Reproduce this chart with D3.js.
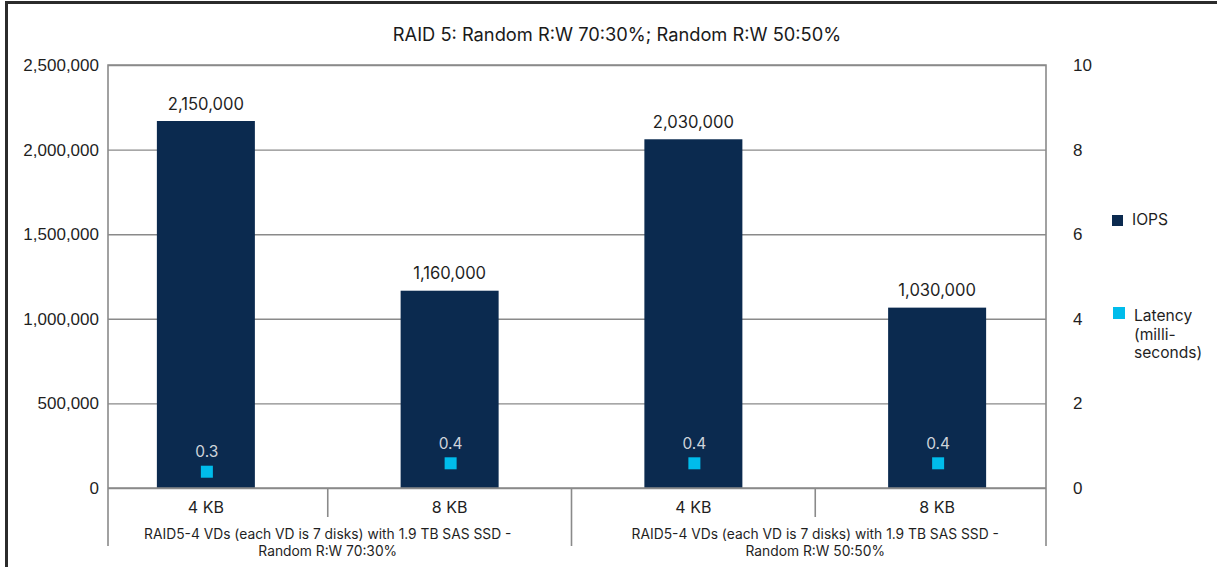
<!DOCTYPE html>
<html>
<head>
<meta charset="utf-8">
<script src="https://cdn.jsdelivr.net/npm/d3@7"></script>
<style>
  body { margin: 0; background: #fff; }
  svg { display: block; font-family: Inter, "Noto Sans", sans-serif; }
</style>
</head>
<body>
<div id="chart"></div>
<script>
const title = "RAID 5: Random R:W 70:30%; Random R:W 50:50%";
const blockSizes = ["4 KB", "8 KB", "4 KB", "8 KB"];
const groupLabels = [
  ["RAID5-4 VDs (each VD is 7 disks) with 1.9 TB SAS SSD -", "Random R:W 70:30%"],
  ["RAID5-4 VDs (each VD is 7 disks) with 1.9 TB SAS SSD -", "Random R:W 50:50%"],
];
const iops = [2169000, 1166000, 2061000, 1066000];
const iopsLabels = ["2,150,000", "1,160,000", "2,030,000", "1,030,000"];
const latency = [0.385, 0.584, 0.584, 0.584];
const latencyLabels = ["0.3", "0.4", "0.4", "0.4"];
const leftTicks = [0, 500000, 1000000, 1500000, 2000000, 2500000];
const rightTicks = [0, 2, 4, 6, 8, 10];

const width = 1217, height = 567;
const plot = { left: 108, right: 1046, top: 65, bottom: 488, axisEnd: 546 };
const barColor = "#0b2a4f";
const latColor = "#00bceb";
const gridColor = "#8a8a8a";

const svg = d3.select("#chart").append("svg").attr("width", width).attr("height", height);
svg.append("rect").attr("width", width).attr("height", height).attr("fill", "#fff");

// outer frame (top + left only)
svg.append("path").attr("d", `M6.5,${height} V2.5 H${width}`).attr("fill", "none")
  .attr("stroke", "#2b2b2b").attr("stroke-width", 3);

svg.append("text").attr("x", 617).attr("y", 36).attr("text-anchor", "middle")
  .attr("dominant-baseline", "middle").attr("font-size", 18.3).attr("fill", "#1a1a1a").text(title);

const x = d3.scaleBand().domain(d3.range(blockSizes.length)).range([84, 1059]).padding(0);
const y = d3.scaleLinear().domain([0, 2500000]).range([plot.bottom, plot.top]);
const y2 = d3.scaleLinear().domain([0, 10]).range([plot.bottom, plot.top]);

// gridlines
const grid = svg.append("g").attr("transform", `translate(${plot.left},0)`)
  .call(d3.axisLeft(y).tickValues(leftTicks).tickSize(-(plot.right - plot.left)).tickFormat(""));
grid.select(".domain").remove();
grid.selectAll("line").attr("stroke", gridColor).attr("stroke-width", 1.4);

// bars
const bw = 98;
svg.append("g").selectAll("rect").data(iops).join("rect")
  .attr("x", (d, i) => x(i) + x.bandwidth() / 2 - bw / 2).attr("width", bw)
  .attr("y", (d) => y(d)).attr("height", (d) => y(0) - y(d)).attr("fill", barColor);

svg.append("g").selectAll("text").data(iops).join("text")
  .attr("x", (d, i) => x(i) + x.bandwidth() / 2).attr("y", (d) => y(d) - 16)
  .attr("text-anchor", "middle").attr("dominant-baseline", "middle")
  .attr("font-size", 16.6).attr("fill", "#1f1f1f").text((d, i) => iopsLabels[i]);

// latency markers
const ms = 12;
svg.append("g").selectAll("rect").data(latency).join("rect")
  .attr("x", (d, i) => x(i) + x.bandwidth() / 2 - ms / 2 + 1).attr("y", (d) => y2(d) - ms / 2)
  .attr("width", ms).attr("height", ms).attr("fill", latColor);
svg.append("g").selectAll("text").data(latency).join("text")
  .attr("x", (d, i) => x(i) + x.bandwidth() / 2 + 1).attr("y", (d) => y2(d) - 19)
  .attr("text-anchor", "middle").attr("dominant-baseline", "middle")
  .attr("font-size", 15.5).attr("fill", "#cfd4db").text((d, i) => latencyLabels[i]);

// plot frame & axes lines
const frame = svg.append("g").attr("stroke", gridColor).attr("stroke-width", 1.6).attr("fill", "none");
frame.append("path").attr("d", `M${plot.left},${plot.axisEnd} V${plot.top} H${plot.right} V${plot.axisEnd}`);
frame.append("line").attr("x1", plot.left).attr("x2", plot.right).attr("y1", y(0)).attr("y2", y(0));
// category separators
blockSizes.slice(1).forEach((_, i) => {
  const bx = x(i + 1);
  const long = (i + 1) % 2 === 0;
  frame.append("line").attr("x1", bx).attr("x2", bx).attr("y1", y(0))
    .attr("y2", long ? plot.axisEnd : 517);
});

// left axis labels
const leftAxis = svg.append("g").attr("transform", `translate(${plot.left},0)`)
  .call(d3.axisLeft(y).tickValues(leftTicks).tickSize(0).tickPadding(9).tickFormat(d3.format(",")));
leftAxis.select(".domain").remove();
leftAxis.selectAll("text").attr("font-size", 17).attr("fill", "#1f1f1f").attr("font-family", null);

// right axis labels
const rightAxis = svg.append("g").attr("transform", `translate(${plot.right},0)`)
  .call(d3.axisRight(y2).tickValues(rightTicks).tickSize(0).tickPadding(27));
rightAxis.select(".domain").remove();
rightAxis.selectAll("text").attr("font-size", 17).attr("fill", "#1f1f1f").attr("font-family", null);

// category labels
svg.append("g").selectAll("text").data(blockSizes).join("text")
  .attr("x", (d, i) => x(i) + x.bandwidth() / 2).attr("y", 509)
  .attr("text-anchor", "middle").attr("dominant-baseline", "middle")
  .attr("font-size", 16).attr("fill", "#1f1f1f").text((d) => d);

// group labels
groupLabels.forEach((lines, g) => {
  const cx = (x(g * 2) + x(g * 2 + 1) + x.bandwidth()) / 2;
  lines.forEach((line, k) => {
    svg.append("text").attr("x", cx).attr("y", 535 + k * 17)
      .attr("text-anchor", "middle").attr("dominant-baseline", "middle")
      .attr("font-size", 13.8).attr("fill", "#1f1f1f").text(line);
  });
});

// legend
const legend = svg.append("g").attr("font-size", 15.6).attr("fill", "#1f1f1f");
legend.append("rect").attr("x", 1112).attr("y", 215).attr("width", 11).attr("height", 11).attr("fill", barColor);
legend.append("text").attr("x", 1132).attr("y", 221).attr("dominant-baseline", "middle").text("IOPS");
legend.append("rect").attr("x", 1113).attr("y", 307).attr("width", 12).attr("height", 12).attr("fill", latColor);
["Latency", "(milli-", "seconds)"].forEach((t, k) => {
  legend.append("text").attr("x", 1134).attr("y", 317 + k * 18.5).attr("dominant-baseline", "middle").text(t);
});
</script>
</body>
</html>
